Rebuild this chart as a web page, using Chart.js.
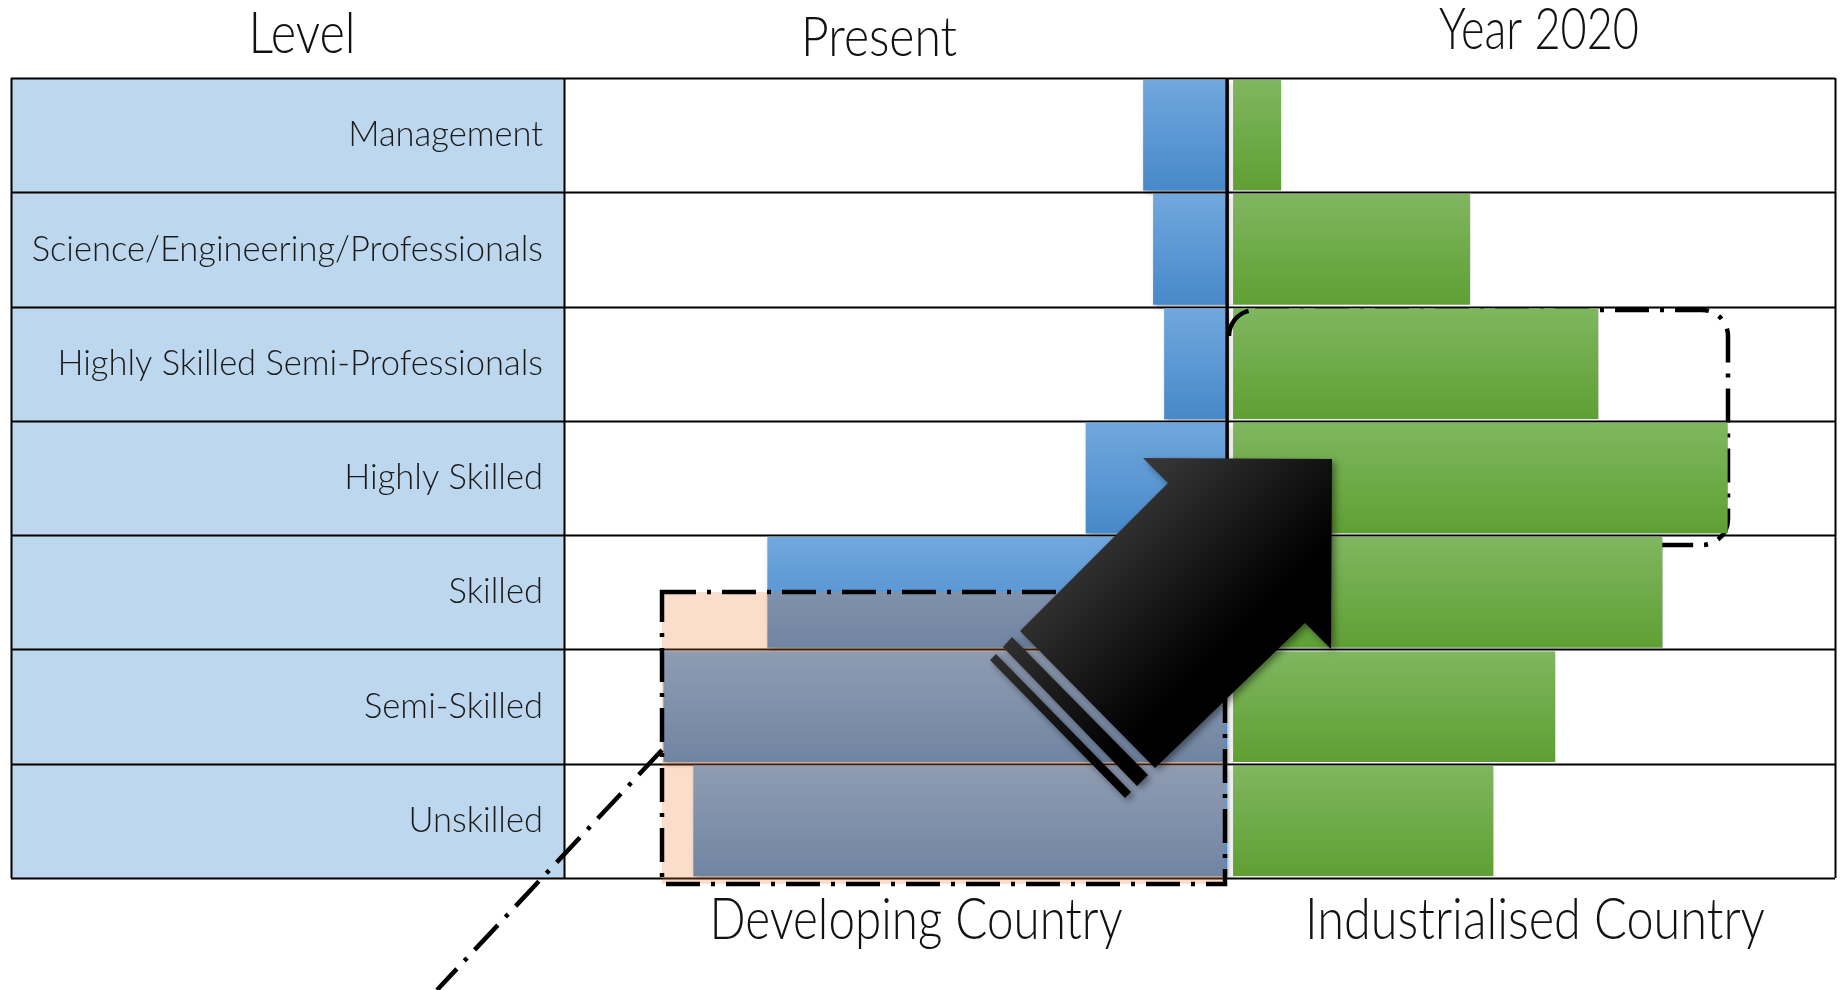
<!DOCTYPE html>
<html>
<head>
<meta charset="utf-8">
<script src="https://cdn.jsdelivr.net/npm/chart.js@4"></script>
<style>
  html, body { margin: 0; padding: 0; background: #fff; }
  #wrap { width: 1841px; height: 990px; }
</style>
</head>
<body>
<div id="wrap"><canvas id="levelsChart"></canvas></div>
<script>
const categories = [
  "Management",
  "Science/Engineering/Professionals",
  "Highly Skilled Semi-Professionals",
  "Highly Skilled",
  "Skilled",
  "Semi-Skilled",
  "Unskilled",
];
// present = developing country (drawn to the left), year 2020 = industrialised country
const developing = [-7.6, -6.7, -5.7, -12.8, -41.6, -51.0, -48.3];
const industrialised = [4.9, 22.0, 33.6, 45.3, 39.4, 29.7, 24.1];

const columnTitles = ["Level", "Present", "Year 2020"];
const countryLabels = ["Developing Country", "Industrialised Country"];

const FONT = "Lato, 'Open Sans', 'Liberation Sans', sans-serif";
const tableLeft = 11;

function barGradient(ctx, top, bottom) {
  const chart = ctx.chart;
  const y = chart.scales.y;
  if (!chart.chartArea || !y || y.height === undefined) return bottom;
  const step = y.height / categories.length;
  const yc = y.getPixelForValue(ctx.dataIndex);
  const g = chart.ctx.createLinearGradient(0, yc - step / 2, 0, yc + step / 2);
  g.addColorStop(0, top);
  g.addColorStop(1, bottom);
  return g;
}

function fitText(ctx, text, cx, baseline, width, capH) {
  ctx.save();
  ctx.font = "300 100px " + FONT;
  const w = ctx.measureText(text).width;
  const cap = ctx.measureText("H").actualBoundingBoxAscent;
  ctx.translate(cx, baseline);
  ctx.scale(width / w, capH / cap);
  ctx.textAlign = "center";
  ctx.textBaseline = "alphabetic";
  ctx.fillStyle = "#111";
  ctx.fillText(text, 0, 0);
  ctx.restore();
}

function dashDot(ctx) {
  ctx.strokeStyle = "#000";
  ctx.lineWidth = 4.5;
  ctx.setLineDash([34, 11, 4, 11]);
}

const tablePlugin = {
  id: "table",
  beforeDraw(chart) {
    const { ctx, chartArea: a } = chart;
    ctx.save();
    ctx.fillStyle = "#fff";
    ctx.fillRect(0, 0, chart.width, chart.height);
    ctx.fillStyle = "#BDD7EE";
    ctx.fillRect(tableLeft, a.top, a.left - tableLeft, a.bottom - a.top);
    ctx.restore();
  },
  beforeDatasetsDraw(chart) {
    const { ctx, chartArea: a, scales: { y } } = chart;
    const step = y.height / categories.length;
    ctx.save();
    ctx.strokeStyle = "#000";
    ctx.lineWidth = 2;
    ctx.beginPath();
    for (let i = 0; i <= categories.length; i++) {
      const yy = Math.round(a.top + i * step) + 0.5;
      ctx.moveTo(tableLeft, yy);
      ctx.lineTo(a.right, yy);
    }
    [tableLeft, a.left, a.right].forEach((xx) => {
      ctx.moveTo(Math.round(xx) + 0.5, a.top);
      ctx.lineTo(Math.round(xx) + 0.5, a.bottom);
    });
    ctx.stroke();

    // rounded dash-dot frame round the 2020 highly skilled rows
    dashDot(ctx);
    ctx.beginPath();
    ctx.roundRect(1229, 310, 499, 235, 26);
    ctx.stroke();
    ctx.restore();

    ctx.save();
    ctx.shadowColor = "rgba(0,0,0,0.35)";
    ctx.shadowBlur = 5;
    ctx.shadowOffsetX = 2;
    ctx.shadowOffsetY = 2;
  },
  afterDatasetsDraw(chart) {
    const { ctx, chartArea: a, scales: { x } } = chart;
    ctx.restore();
    const x0 = x.getPixelForValue(0);

    ctx.save();
    // rounded frame corners that stick out past the bars
    dashDot(ctx);
    ctx.beginPath();
    ctx.arc(1255, 336, 26, Math.PI, Math.PI * 1.5);
    ctx.stroke();

    // centre axis line
    ctx.setLineDash([]);
    ctx.strokeStyle = "#000";
    ctx.lineWidth = 3.5;
    ctx.beginPath();
    ctx.moveTo(x0, a.top);
    ctx.lineTo(x0, 592);
    ctx.stroke();

    // translucent orange box over the lower developing bars
    ctx.fillStyle = "rgba(237,125,49,0.25)";
    ctx.fillRect(662, 592, 563, 292);
    dashDot(ctx);
    ctx.strokeRect(662, 592, 563, 292);

    // diagonal pointer line
    ctx.beginPath();
    ctx.moveTo(662, 750);
    ctx.lineTo(437, 990);
    ctx.stroke();
    ctx.setLineDash([]);

    // block arrow
    ctx.shadowColor = "rgba(0,0,0,0.45)";
    ctx.shadowBlur = 7;
    ctx.shadowOffsetX = 3;
    ctx.shadowOffsetY = 3;
    const g = ctx.createLinearGradient(1090, 500, 1230, 640);
    g.addColorStop(0, "#3c3c3c");
    g.addColorStop(1, "#000");
    ctx.fillStyle = g;
    ctx.beginPath();
    ctx.moveTo(1332, 459);
    ctx.lineTo(1331, 649);
    ctx.lineTo(1305, 623);
    ctx.lineTo(1155, 768);
    ctx.lineTo(1020, 631);
    ctx.lineTo(1168, 483);
    ctx.lineTo(1143, 458);
    ctx.closePath();
    ctx.fill();
    ctx.beginPath();
    ctx.moveTo(1012, 637);
    ctx.lineTo(1003, 647);
    ctx.lineTo(1137, 786);
    ctx.lineTo(1148, 775);
    ctx.closePath();
    ctx.fill();
    ctx.beginPath();
    ctx.moveTo(996, 654);
    ctx.lineTo(990, 660);
    ctx.lineTo(1125, 798);
    ctx.lineTo(1131, 792);
    ctx.closePath();
    ctx.fill();
    ctx.restore();

    // column titles and bottom labels
    fitText(ctx, columnTitles[0], 302, 53, 107, 41);
    fitText(ctx, columnTitles[1], 879, 56, 156, 40);
    fitText(ctx, columnTitles[2], 1539, 49, 200, 41);
    fitText(ctx, countryLabels[0], 916, 939, 413, 41);
    fitText(ctx, countryLabels[1], 1535, 939, 460, 41);
  },
};

const canv = document.getElementById("levelsChart");
new Chart(canv, {
  type: "bar",
  data: {
    labels: categories,
    datasets: [
      {
        label: "Developing Country",
        data: developing,
        backgroundColor: (c) => barGradient(c, "#71A8DE", "#4788C9"),
      },
      {
        label: "Industrialised Country",
        data: industrialised,
        backgroundColor: (c) => barGradient(c, "#80B760", "#5E9F33"),
        borderSkipped: false,
        borderWidth: { left: 6, right: 0, top: 0, bottom: 0 },
        borderColor: "#fff",
      },
    ],
  },
  options: {
    indexAxis: "y",
    responsive: true,
    maintainAspectRatio: false,
    devicePixelRatio: 1,
    animation: false,
    barPercentage: 0.97,
    categoryPercentage: 1,
    layout: { padding: { left: tableLeft, top: 78, right: 6, bottom: 112 } },
    plugins: { legend: { display: false }, tooltip: { enabled: false } },
    scales: {
      x: { display: false, stacked: true, min: -60, max: 55 },
      y: {
        stacked: true,
        grid: { display: false, drawTicks: false },
        border: { display: false },
        ticks: {
          padding: 21,
          color: "#1a1a1a",
          font: { family: FONT, size: 34.5, weight: 300 },
        },
        afterFit: (scale) => { scale.width = 553; },
      },
    },
  },
  plugins: [tablePlugin],
});
</script>
</body>
</html>
